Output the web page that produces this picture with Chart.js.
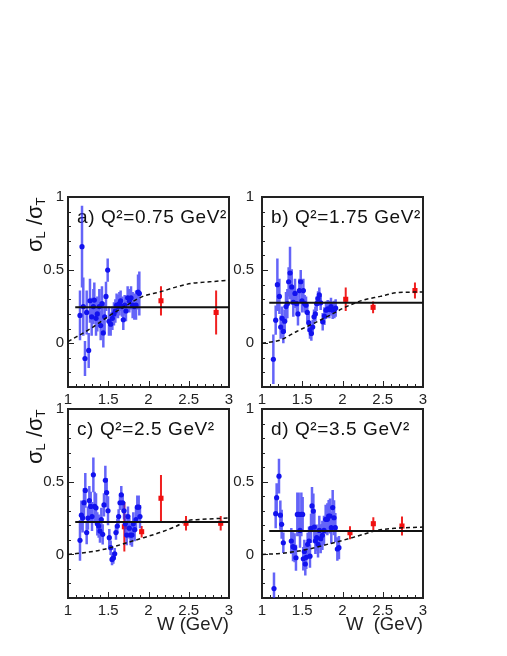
<!DOCTYPE html>
<html>
<head>
<meta charset="utf-8">
<script src="https://cdn.jsdelivr.net/npm/chart.js@4"></script>
<style>
  body { margin: 0; background: #fff; }
  #wrap { position: relative; width: 507px; height: 656px; }
  canvas { position: absolute; left: 0; top: 0; }
</style>
</head>
<body>
<div id="wrap">
  <canvas id="pa" width="507" height="656"></canvas>
  <canvas id="pb" width="507" height="656"></canvas>
  <canvas id="pc" width="507" height="656"></canvas>
  <canvas id="pd" width="507" height="656"></canvas>
</div>
<script>
// sigma_L / sigma_T vs W, four Q^2 bins.
// blue = resonance-region data, red = DIS points, solid = constant fit,
// dashed = global R parametrisation.

const FONT = "'Liberation Sans', Arial, Helvetica, sans-serif";

// ---- a) Q2 = 0.75 GeV2
const aW = [1.149, 1.174, 1.190, 1.211, 1.232, 1.257, 1.273, 1.294, 1.315, 1.327,
  1.348, 1.364, 1.389, 1.406, 1.422, 1.439, 1.455, 1.472, 1.493, 1.509,
  1.530, 1.551, 1.571, 1.588, 1.604, 1.621, 1.638, 1.654, 1.671, 1.687,
  1.704, 1.720, 1.741, 1.762, 1.783, 1.803, 1.824, 1.845, 1.870, 1.886];
const aR = [0.19, 0.66, 0.25, -0.105, 0.21, -0.05, 0.29, 0.18, 0.25, 0.295,
  0.17, 0.20, 0.25, 0.12, 0.27, 0.07, 0.18, 0.32, 0.50, 0.15,
  0.13, 0.17, 0.20, 0.22, 0.26, 0.25, 0.27, 0.29, 0.25, 0.16,
  0.26, 0.22, 0.31, 0.29, 0.31, 0.26, 0.25, 0.26, 0.35, 0.34];
const aE = [0.17, 0.28, 0.20, 0.12, 0.15, 0.12, 0.15, 0.13, 0.12, 0.12,
  0.12, 0.12, 0.12, 0.10, 0.12, 0.10, 0.10, 0.10, 0.08, 0.10,
  0.08, 0.08, 0.08, 0.08, 0.08, 0.08, 0.08, 0.07, 0.07, 0.07,
  0.07, 0.07, 0.08, 0.08, 0.08, 0.09, 0.09, 0.10, 0.12, 0.15];
const aDisW = [2.155, 2.84];
const aDisR = [0.29, 0.21];
const aDisE = [0.10, 0.15];
const aFit = 0.245;
const aCurveW = [1.0, 1.31, 1.52, 1.73, 1.93, 2.14, 2.35, 2.55, 2.76, 3.0];
const aCurveR = [0.01, 0.11, 0.19, 0.26, 0.32, 0.35, 0.385, 0.41, 0.42, 0.43];

// ---- b) Q2 = 1.75 GeV2
const bW = [1.141, 1.170, 1.191, 1.216, 1.232, 1.249, 1.265, 1.282, 1.298, 1.315,
  1.331, 1.348, 1.369, 1.389, 1.410, 1.431, 1.447, 1.464, 1.481, 1.497,
  1.514, 1.530, 1.547, 1.563, 1.580, 1.596, 1.613, 1.630, 1.646, 1.663,
  1.679, 1.696, 1.712, 1.729, 1.754, 1.775, 1.795, 1.816, 1.837, 1.857,
  1.878, 1.899, 1.915];
const bR = [-0.11, 0.157, 0.40, 0.32, 0.11, 0.17, 0.08, 0.15, 0.25, 0.27,
  0.42, 0.48, 0.385, 0.28, 0.34, 0.27, 0.20, 0.36, 0.42, 0.29,
  0.36, 0.27, 0.26, 0.21, 0.14, 0.09, 0.066, 0.11, 0.18, 0.20,
  0.27, 0.305, 0.33, 0.276, 0.146, 0.185, 0.225, 0.235, 0.23, 0.25,
  0.225, 0.23, 0.24];
const bE = [0.17, 0.10, 0.18, 0.12, 0.08, 0.08, 0.08, 0.08, 0.10, 0.10,
  0.10, 0.18, 0.12, 0.10, 0.10, 0.08, 0.08, 0.08, 0.08, 0.08,
  0.08, 0.06, 0.06, 0.06, 0.06, 0.06, 0.05, 0.05, 0.05, 0.05,
  0.05, 0.05, 0.05, 0.05, 0.06, 0.06, 0.06, 0.06, 0.06, 0.06,
  0.06, 0.06, 0.06];
const bDisW = [2.04, 2.38, 2.90];
const bDisR = [0.30, 0.245, 0.36];
const bDisE = [0.08, 0.04, 0.055];
const bFit = 0.276;
const bCurveW = [1.0, 1.22, 1.43, 1.64, 1.84, 2.05, 2.26, 2.47, 2.67, 3.0];
const bCurveR = [0.0, 0.02, 0.08, 0.135, 0.19, 0.25, 0.295, 0.32, 0.345, 0.35];

// ---- c) Q2 = 2.5 GeV2
const cW = [1.149, 1.166, 1.182, 1.199, 1.215, 1.232, 1.248, 1.265, 1.282, 1.298,
  1.315, 1.331, 1.348, 1.364, 1.381, 1.397, 1.414, 1.431, 1.447, 1.464,
  1.480, 1.497, 1.513, 1.530, 1.547, 1.563, 1.580, 1.596, 1.613, 1.629,
  1.646, 1.662, 1.679, 1.696, 1.712, 1.729, 1.745, 1.762, 1.778, 1.795,
  1.811, 1.828, 1.845, 1.861, 1.878, 1.894];
const cR = [0.097, 0.27, 0.25, 0.356, 0.44, 0.15, 0.25, 0.37, 0.33, 0.26,
  0.547, 0.33, 0.32, 0.21, 0.195, 0.16, 0.24, 0.138, 0.34, 0.51,
  0.425, 0.30, 0.115, 0.046, -0.035, -0.025, 0.004, 0.15, 0.195, 0.26,
  0.355, 0.41, 0.355, 0.30, 0.21, 0.133, 0.26, 0.18, 0.133, 0.133,
  0.21, 0.17, 0.24, 0.325, 0.325, 0.26];
const cE = [0.14, 0.10, 0.10, 0.10, 0.12, 0.08, 0.08, 0.10, 0.10, 0.10,
  0.12, 0.10, 0.10, 0.08, 0.08, 0.08, 0.08, 0.07, 0.08, 0.10,
  0.10, 0.10, 0.06, 0.05, 0.04, 0.04, 0.04, 0.05, 0.05, 0.05,
  0.05, 0.06, 0.06, 0.06, 0.07, 0.07, 0.07, 0.07, 0.07, 0.08,
  0.08, 0.08, 0.08, 0.08, 0.08, 0.08];
const cDisW = [1.70, 1.915, 2.155, 2.466, 2.897];
const cDisR = [0.19, 0.156, 0.386, 0.214, 0.214];
const cDisE = [0.17, 0.04, 0.16, 0.05, 0.05];
const cFit = 0.223;
const cCurveW = [1.0, 1.31, 1.52, 1.73, 1.94, 2.14, 2.35, 2.47, 2.64, 3.0];
const cCurveR = [0.0, 0.02, 0.045, 0.08, 0.115, 0.15, 0.195, 0.23, 0.24, 0.25];

// ---- d) Q2 = 3.5 GeV2
const dW = [1.149, 1.170, 1.182, 1.211, 1.228, 1.244, 1.265, 1.364, 1.385, 1.405,
  1.422, 1.439, 1.455, 1.472, 1.489, 1.505, 1.513, 1.526, 1.538, 1.550,
  1.567, 1.584, 1.596, 1.609, 1.621, 1.638, 1.650, 1.663, 1.679, 1.696,
  1.712, 1.729, 1.750, 1.770, 1.791, 1.812, 1.828, 1.845, 1.861, 1.878,
  1.895, 1.911, 1.936, 1.956];
const dR = [-0.235, 0.28, 0.39, 0.538, 0.27, 0.207, 0.08, 0.092, 0.053, 0.046,
  -0.023, 0.275, 0.275, 0.165, 0.275, 0.275, -0.03, 0.02, -0.066, -0.02,
  0.069, 0.092, -0.012, 0.179, 0.333, 0.298, 0.188, 0.092, 0.115, 0.069,
  0.165, 0.108, 0.131, 0.165, 0.241, 0.241, 0.264, 0.264, 0.184, 0.322,
  0.252, 0.184, 0.037, 0.046];
const dE = [0.11, 0.10, 0.10, 0.12, 0.10, 0.10, 0.07, 0.09, 0.10, 0.10,
  0.09, 0.15, 0.15, 0.12, 0.15, 0.12, 0.08, 0.08, 0.08, 0.08,
  0.08, 0.10, 0.08, 0.10, 0.13, 0.12, 0.10, 0.09, 0.09, 0.09,
  0.10, 0.10, 0.10, 0.10, 0.10, 0.11, 0.11, 0.12, 0.11, 0.12,
  0.12, 0.10, 0.08, 0.08];
const dDisW = [2.093, 2.383, 2.739];
const dDisR = [0.149, 0.211, 0.195];
const dDisE = [0.045, 0.045, 0.065];
const dFit = 0.16;
const dCurveW = [1.0, 1.19, 1.40, 1.60, 1.81, 2.02, 2.23, 2.43, 2.64, 3.0];
const dCurveR = [0.0, 0.005, 0.018, 0.039, 0.069, 0.099, 0.133, 0.165, 0.179, 0.188];

const FIT_FROM = 1.09;
const W_MIN = 1, W_MAX = 3;
const R_MIN = -0.3, R_MAX = 1;

const pts = (xs, ys) => xs.map((x, i) => ({ x, y: ys[i] }));
// vertical error bars as one broken polyline
const errBars = (xs, ys, es) =>
  xs.flatMap((x, i) => [{ x, y: ys[i] - es[i] }, { x, y: ys[i] + es[i] }, { x, y: null }]);

const isMajor = (v) => Math.abs(v * 2 - Math.round(v * 2)) < 1e-6;
const majorLabel = (v) => (isMajor(v) ? String(Math.round(v * 2) / 2) : "");

// ROOT-style frame: box, inward ticks, panel label, y title
const rootFrame = {
  id: "rootFrame",
  beforeDatasetsDraw(chart, args, opts) {
    const { ctx, chartArea: a, scales: { x, y } } = chart;
    ctx.save();
    ctx.strokeStyle = "#222";
    ctx.lineWidth = 1;
    ctx.beginPath();
    for (const t of x.ticks) {
      const px = Math.round(x.getPixelForValue(t.value)) + 0.5;
      ctx.moveTo(px, a.bottom);
      ctx.lineTo(px, a.bottom - (isMajor(t.value) ? 6 : 3));
    }
    for (const t of y.ticks) {
      const py = Math.round(y.getPixelForValue(t.value)) + 0.5;
      ctx.moveTo(a.left, py);
      ctx.lineTo(a.left + (isMajor(t.value) ? 6 : 3), py);
    }
    ctx.stroke();
    ctx.lineWidth = 2;
    ctx.strokeRect(a.left, a.top, a.width, a.height);

    ctx.fillStyle = "#111";
    ctx.font = `19px ${FONT}`;
    ctx.letterSpacing = "0.6px";
    ctx.textBaseline = "alphabetic";
    ctx.fillText(opts.label, a.left + 9, a.top + 26);
    ctx.letterSpacing = "0px";

    if (opts.yTitle) {
      ctx.translate(a.left - 26.5, a.top + 55);
      ctx.rotate(-Math.PI / 2);
      let pos = 0;
      const part = (txt, size, shift) => {
        ctx.font = `${size}px ${FONT}`;
        ctx.fillText(txt, pos, shift);
        pos += ctx.measureText(txt).width;
      };
      part("σ", 22, 0);
      part("L", 13, 3);
      part(" /", 22, 0);
      part("σ", 22, 0);
      part("T", 13, 3);
    }
    ctx.restore();
  },
};

const panels = [
  { id: "pa", label: "a) Q²=0.75 GeV²", frame: [68, 197, 229, 387], yTitle: true, xTitle: "",
    w: aW, r: aR, e: aE, disW: aDisW, disR: aDisR, disE: aDisE, fit: aFit, cw: aCurveW, cr: aCurveR },
  { id: "pb", label: "b) Q²=1.75 GeV²", frame: [262, 197, 423, 387], yTitle: false, xTitle: "",
    w: bW, r: bR, e: bE, disW: bDisW, disR: bDisR, disE: bDisE, fit: bFit, cw: bCurveW, cr: bCurveR },
  { id: "pc", label: "c) Q²=2.5 GeV²", frame: [68, 409, 229, 598], yTitle: true, xTitle: "W (GeV)",
    w: cW, r: cR, e: cE, disW: cDisW, disR: cDisR, disE: cDisE, fit: cFit, cw: cCurveW, cr: cCurveR },
  { id: "pd", label: "d) Q²=3.5 GeV²", frame: [262, 409, 423, 598], yTitle: false, xTitle: "W  (GeV)",
    w: dW, r: dR, e: dE, disW: dDisW, disR: dDisR, disE: dDisE, fit: dFit, cw: dCurveW, cr: dCurveR },
];

const tickFont = { family: FONT, size: 15 };
const noGrid = { display: false, drawTicks: false, tickLength: 0 };

for (const p of panels) {
  const [L, T, R, B] = p.frame;
  const xh = p.xTitle ? 40 : 20;
  new Chart(document.getElementById(p.id), {
    type: "scatter",
    data: {
      datasets: [
        { type: "line", data: pts(p.cw, p.cr), borderColor: "#111", borderWidth: 1.5,
          borderDash: [4, 3], cubicInterpolationMode: "monotone", pointRadius: 0 },
        { type: "line", data: pts([FIT_FROM, W_MAX], [p.fit, p.fit]), borderColor: "#111",
          borderWidth: 2, pointRadius: 0 },
        { data: pts(p.w, p.r), pointRadius: 2.6, pointBorderWidth: 0,
          pointBackgroundColor: "#1212ee" },
        { type: "line", data: errBars(p.w, p.r, p.e), borderColor: "rgba(40,40,245,0.72)",
          borderWidth: 2.5, pointRadius: 0, spanGaps: false },
        { data: pts(p.disW, p.disR), pointStyle: "rect", pointRadius: 3.6, pointBorderWidth: 0,
          pointBackgroundColor: "#f01010" },
        { type: "line", data: errBars(p.disW, p.disR, p.disE), borderColor: "#f02020",
          borderWidth: 2, pointRadius: 0, spanGaps: false },
      ],
    },
    options: {
      responsive: false,
      animation: false,
      events: [],
      layout: { padding: { left: 0, top: T, right: 507 - R, bottom: 656 - B - xh } },
      plugins: {
        legend: { display: false },
        tooltip: { enabled: false },
        rootFrame: { label: p.label, yTitle: p.yTitle },
      },
      scales: {
        x: {
          type: "linear", min: W_MIN, max: W_MAX,
          afterFit: (s) => { s.height = xh; },
          grid: noGrid, border: { display: false },
          ticks: { stepSize: 0.1, autoSkip: false, maxRotation: 0, padding: 4,
            color: "#222", font: tickFont, callback: majorLabel },
          title: { display: !!p.xTitle, text: p.xTitle, align: "end", color: "#222",
            font: { family: FONT, size: 18.5 }, padding: { top: 0, bottom: 2 } },
        },
        y: {
          type: "linear", min: R_MIN, max: R_MAX,
          afterFit: (s) => { s.width = L; },
          grid: noGrid, border: { display: false },
          ticks: { stepSize: 0.1, autoSkip: false, padding: p.yTitle ? 4 : 8,
            color: "#222", font: tickFont, callback: majorLabel },
        },
      },
    },
    plugins: [rootFrame],
  });
}
</script>
</body>
</html>
